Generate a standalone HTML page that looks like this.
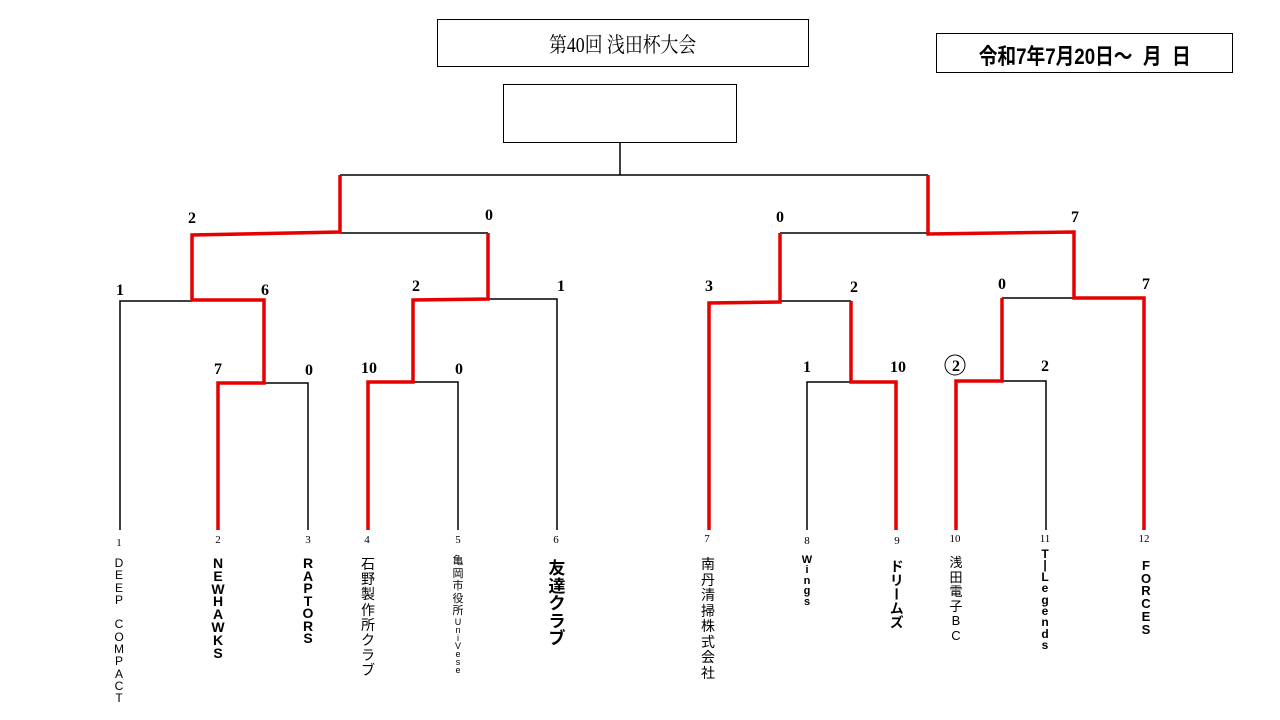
<!DOCTYPE html>
<html><head><meta charset="utf-8"><style>
body{margin:0;width:1280px;height:720px;background:#fff;position:relative;overflow:hidden;font-family:"Liberation Sans","Noto Sans CJK JP",sans-serif}
.box{position:absolute;border:1px solid #000;box-sizing:border-box}
.v{position:absolute;width:30px;margin-left:-15px;text-align:center;color:#000}
.n{position:absolute;font-family:"Liberation Serif",serif;font-size:11px;transform:translateX(-50%)}
</style></head><body>
<div class="box" style="left:437px;top:19px;width:372px;height:48px;"></div>
<div style="position:absolute;left:437px;top:29px;width:372px;text-align:center;font-family:'Liberation Serif','Noto Serif CJK SC',serif;font-size:21px;"><span style="display:inline-block;transform:scaleX(0.85)">第40回 浅田杯大会</span></div>
<div class="box" style="left:936px;top:33px;width:297px;height:40px;"></div>
<div style="position:absolute;left:936px;top:39px;width:297px;text-align:center;font-weight:bold;font-size:22px;"><span style="display:inline-block;transform:scaleX(0.85)">令和7年7月20日～&nbsp;&nbsp;月&nbsp;&nbsp;日</span></div>
<div class="box" style="left:503px;top:84px;width:234px;height:59px;"></div>
<svg width="1280" height="720" style="position:absolute;left:0;top:0" font-family="Liberation Serif,serif" font-weight="bold" font-size="16" text-anchor="middle">
<g stroke="#000" stroke-width="1.5" fill="none">
<path d="M620 143V175M340 175H928"/>
<path d="M340 233H488"/>
<path d="M120 530V301H192"/>
<path d="M264 383H308V530"/>
<path d="M488 299H557V530"/>
<path d="M413 382H458V530"/>
<path d="M780 233H928"/>
<path d="M780 301H851"/>
<path d="M807 530V382H851"/>
<path d="M1002 298H1074"/>
<path d="M1002 381H1046V530"/>
</g>
<g stroke="#e60000" stroke-width="3.5" fill="none">
<path d="M340 175V232L192 235V300H264V383H218V530"/>
<path d="M488 233V299L413 300V382H368V530"/>
<path d="M928 175V234L1074 232V298H1144V530"/>
<path d="M780 233V302L709 303V530"/>
<path d="M851 301V382H896V530"/>
<path d="M1002 298V381H956V530"/>
</g>
<text x="192" y="223">2</text><text x="489" y="220">0</text>
<text x="120" y="295">1</text><text x="265" y="295">6</text>
<text x="416" y="291">2</text><text x="561" y="291">1</text>
<text x="218" y="374">7</text><text x="309" y="375">0</text>
<text x="369" y="373">10</text><text x="459" y="374">0</text>
<text x="780" y="222">0</text><text x="1075" y="222">7</text>
<text x="709" y="291">3</text><text x="854" y="292">2</text>
<text x="1002" y="289">0</text><text x="1146" y="289">7</text>
<text x="807" y="372">1</text><text x="898" y="372">10</text>
<text x="956" y="371">2</text><circle cx="955" cy="365" r="10" fill="none" stroke="#000" stroke-width="1"/>
<text x="1045" y="371">2</text>
</svg>
<div class="n" style="left:119px;top:537px">1</div>
<div class="n" style="left:218px;top:534px">2</div>
<div class="n" style="left:308px;top:534px">3</div>
<div class="n" style="left:367px;top:534px">4</div>
<div class="n" style="left:458px;top:534px">5</div>
<div class="n" style="left:556px;top:534px">6</div>
<div class="n" style="left:707px;top:533px">7</div>
<div class="n" style="left:807px;top:535px">8</div>
<div class="n" style="left:897px;top:535px">9</div>
<div class="n" style="left:955px;top:533px">10</div>
<div class="n" style="left:1045px;top:533px">11</div>
<div class="n" style="left:1144px;top:533px">12</div>
<div class="v" style="left:119px;top:557px;font-size:12px;line-height:12.3px">D<br>E<br>E<br>P<br>&nbsp;<br>C<br>O<br>M<br>P<br>A<br>C<br>T</div>
<div class="v" style="left:218px;top:557px;font-size:14px;line-height:12.8px;font-weight:bold">N<br>E<br>W<br>H<br>A<br>W<br>K<br>S</div>
<div class="v" style="left:308px;top:557px;font-size:14px;line-height:12.5px;font-weight:bold">R<br>A<br>P<br>T<br>O<br>R<br>S</div>
<div class="v" style="left:368px;top:557px;font-size:14px;line-height:15.2px">石<br>野<br>製<br>作<br>所<br>ク<br>ラ<br>ブ</div>
<div class="v" style="left:458px;top:555px;font-size:11px;line-height:12.5px">亀<br>岡<br>市<br>役<br>所</div>
<div class="v" style="left:458px;top:618px;font-size:9px;line-height:8px">U<br>n<br>i<br>V<br>e<br>s<br>e</div>
<div class="v" style="left:557px;top:560px;font-size:17px;line-height:17.5px;font-weight:bold">友<br>達<br>ク<br>ラ<br>ブ</div>
<div class="v" style="left:708px;top:557px;font-size:14px;line-height:15.5px">南<br>丹<br>清<br>掃<br>株<br>式<br>会<br>社</div>
<div class="v" style="left:807px;top:555px;font-size:11px;line-height:10.4px;font-weight:bold">W<br>i<br>n<br>g<br>s</div>
<div class="v" style="left:897px;top:559px;font-size:14px;line-height:14.8px;font-weight:bold;writing-mode:vertical-rl;width:auto;margin-left:-8px">ドリームズ</div>
<div class="v" style="left:956px;top:556px;font-size:13px;line-height:14.5px">浅<br>田<br>電<br>子<br>B<br>C</div>
<div class="v" style="left:1045px;top:549px;font-size:12px;line-height:11.4px;font-weight:bold">T<br>|<br>L<br>e<br>g<br>e<br>n<br>d<br>s</div>
<div class="v" style="left:1146px;top:560px;font-size:13px;line-height:12.7px;font-weight:bold">F<br>O<br>R<br>C<br>E<br>S</div>
</body></html>
